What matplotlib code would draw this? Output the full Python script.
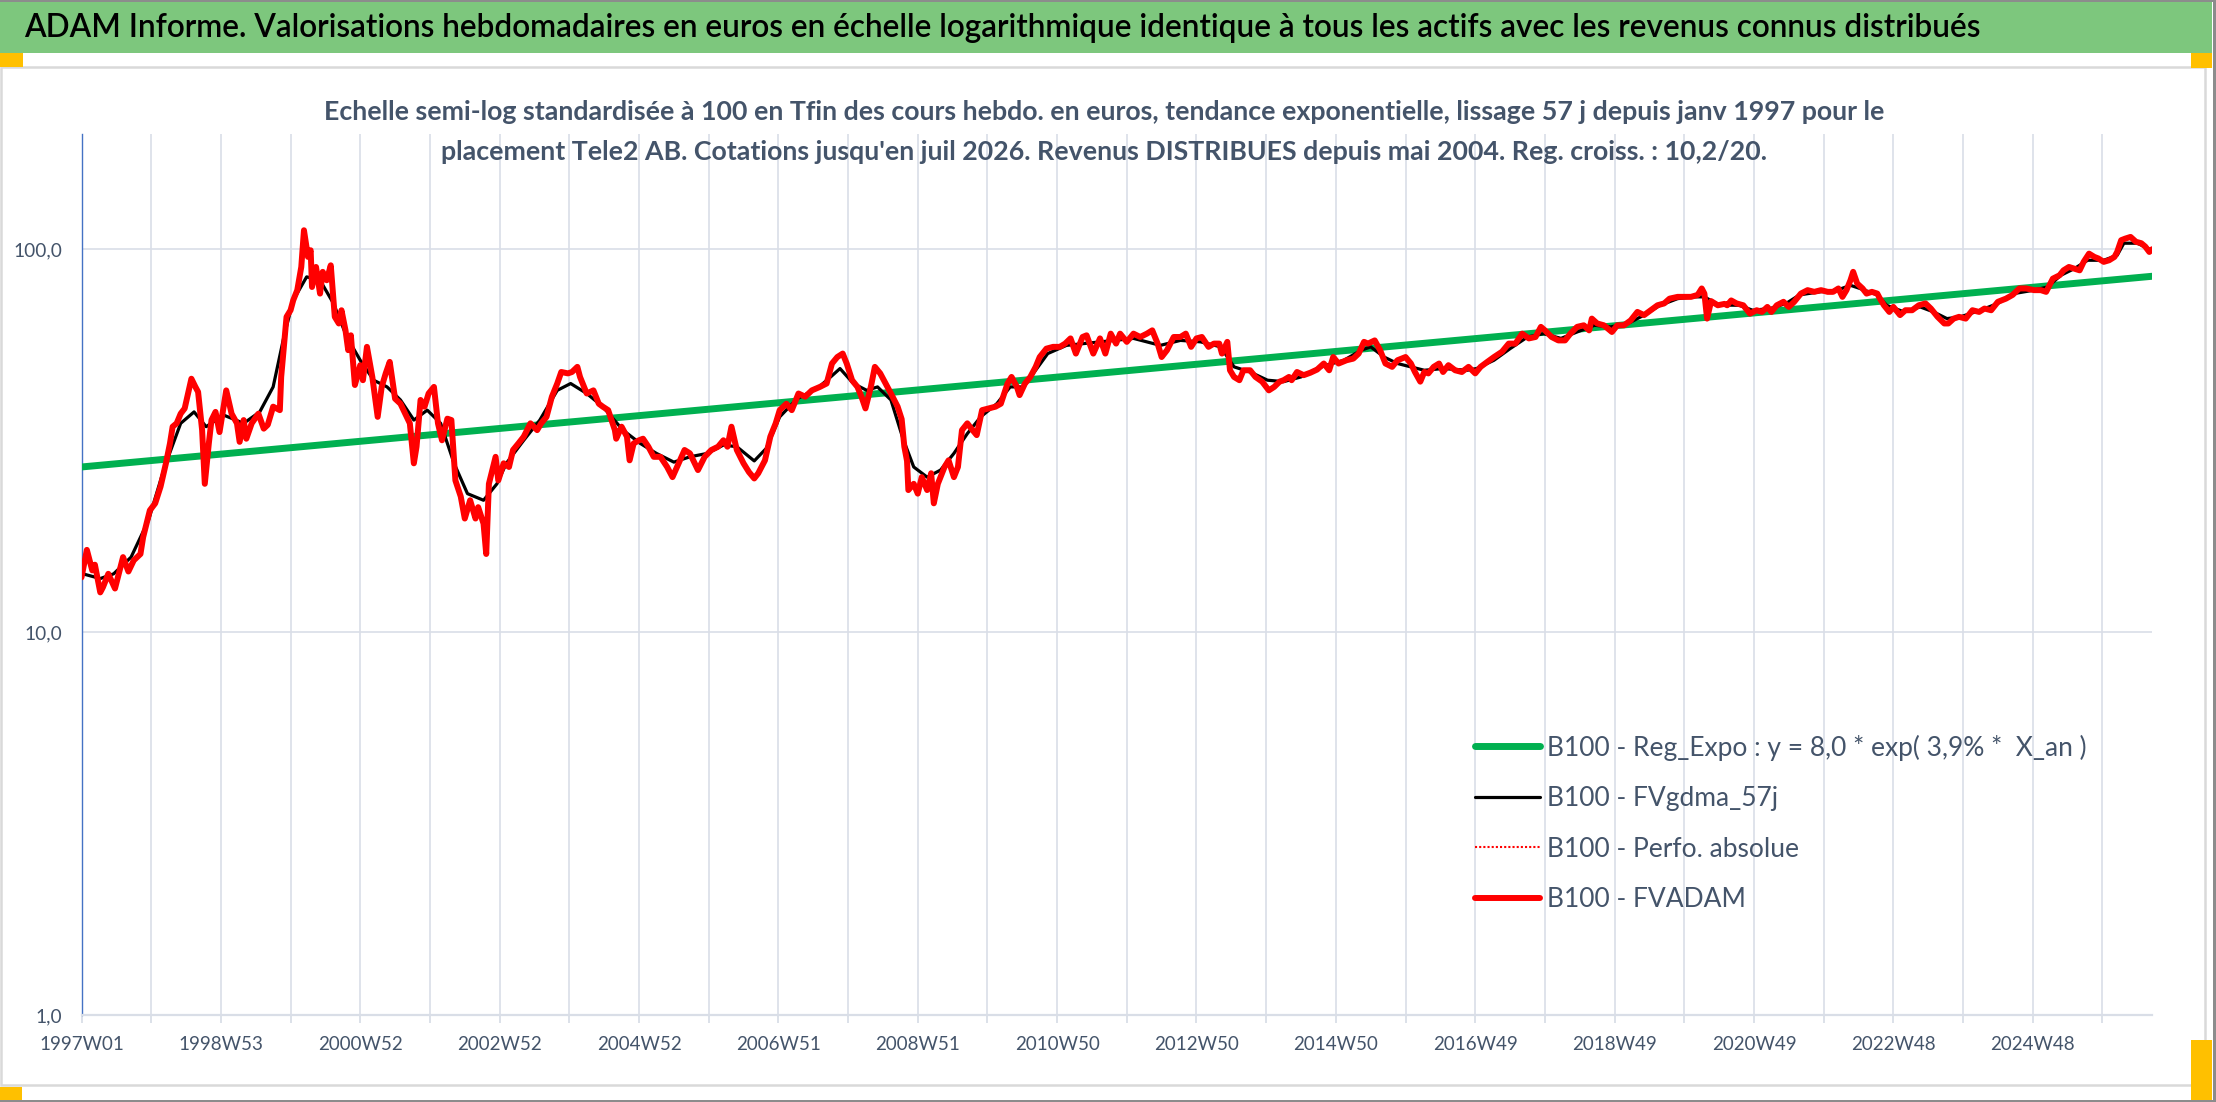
import datetime as dt
import matplotlib
matplotlib.use("Agg")
import matplotlib.pyplot as plt
from matplotlib.patches import Rectangle
from matplotlib.ticker import FixedLocator, NullLocator, FixedFormatter

# ------------------------------------------------------------------ data
N_WEEKS = 1546                      # 1997W01 ... 2026W33 (weekly categories)
START_MONDAY = dt.date(1996, 12, 30)
week_labels = []
for k in range(N_WEEKS):
    yy, ww, _ = (START_MONDAY + dt.timedelta(weeks=k)).isocalendar()
    week_labels.append(f"{yy}W{ww:02d}")

# B100 - FVADAM (red), week index -> value
fvadam_week = [0, 4, 8, 10, 14, 16, 20, 25, 31, 35, 39, 44, 46, 51, 55, 59, 63, 66, 68, 71,
               74, 77, 82, 85, 87, 90, 92, 95, 97, 100, 103, 108, 112, 116, 118, 121, 123, 127, 132, 136,
               139, 143, 148, 149, 153, 156, 158, 161, 164, 166, 169, 171, 172, 175, 178, 180, 183, 186, 189, 192,
               194, 197, 199, 201, 204, 208, 210, 213, 217, 221, 224, 227, 230, 234, 238, 242, 245, 248, 250, 253,
               256, 259, 263, 266, 269, 273, 276, 279, 283, 286, 290, 294, 296, 300, 302, 304, 309, 311, 315, 319,
               322, 326, 330, 335, 340, 343, 347, 351, 355, 358, 363, 366, 370, 372, 377, 382, 386, 389, 393, 398,
               399, 403, 407, 409, 412, 416, 419, 423, 427, 432, 437, 441, 445, 450, 454, 460, 465, 470, 475, 479,
               482, 485, 489, 494, 498, 502, 505, 510, 514, 518, 521, 526, 530, 535, 540, 545, 551, 556, 560, 564,
               568, 571, 575, 579, 582, 585, 589, 592, 596, 600, 604, 609, 612, 614, 616, 617, 621, 624, 627, 631,
               634, 636, 639, 644, 647, 651, 654, 657, 661, 664, 668, 672, 677, 682, 686, 691, 694, 698, 700, 704,
               708, 712, 715, 720, 725, 730, 734, 738, 742, 747, 750, 755, 760, 764, 768, 772, 775, 780, 785, 790,
               795, 799, 803, 806, 810, 815, 820, 824, 828, 832, 836, 841, 845, 849, 851, 855, 857, 860, 864, 867,
               872, 876, 881, 886, 890, 894, 897, 901, 903, 907, 912, 917, 922, 927, 931, 934, 938, 944, 949, 953,
               957, 960, 965, 969, 973, 978, 982, 988, 992, 995, 999, 1002, 1005, 1009, 1013, 1016, 1020, 1025, 1030, 1035,
               1040, 1044, 1049, 1054, 1060, 1065, 1070, 1075, 1080, 1085, 1089, 1092, 1097, 1102, 1107, 1111, 1116, 1121, 1125, 1127,
               1131, 1136, 1142, 1146, 1151, 1156, 1161, 1166, 1171, 1176, 1181, 1185, 1191, 1196, 1201, 1206, 1209, 1211, 1213, 1216,
               1221, 1226, 1228, 1231, 1235, 1240, 1245, 1250, 1254, 1258, 1261, 1265, 1270, 1274, 1278, 1283, 1288, 1293, 1298, 1303,
               1307, 1311, 1314, 1317, 1320, 1322, 1325, 1329, 1332, 1336, 1340, 1342, 1345, 1349, 1352, 1357, 1361, 1366, 1371, 1376,
               1380, 1385, 1390, 1393, 1397, 1401, 1406, 1411, 1416, 1420, 1425, 1430, 1436, 1441, 1446, 1451, 1457, 1462, 1466, 1471,
               1476, 1479, 1483, 1487, 1491, 1494, 1498, 1502, 1505, 1509, 1513, 1517, 1519, 1522, 1525, 1529, 1533, 1537, 1540, 1543,
               1545]
fvadam_val = [13.9, 16.4, 14.5, 15.0, 12.7, 13.1, 14.2, 13.0, 15.7, 14.4, 15.4, 16.0, 17.7, 20.8, 21.7, 24.0, 27.6, 31.1, 34.4, 35.1,
              37.2, 38.4, 45.9, 43.7, 42.4, 33.7, 24.4, 31.1, 35.8, 37.6, 33.3, 42.8, 37.2, 35.1, 31.4, 35.8, 32.0, 35.1, 37.2, 34.0,
              34.8, 38.8, 38.0, 46.4, 66.6, 69.3, 73.6, 78.2, 89.9, 112.1, 95.5, 99.4, 79.7, 89.9, 76.6, 87.3, 83.0, 90.8, 66.6, 64.0,
              69.3, 61.4, 54.5, 59.6, 44.2, 49.8, 45.5, 55.6, 46.4, 36.5, 43.7, 47.4, 50.8, 40.7, 39.5, 36.9, 35.1, 27.6, 30.5, 40.4,
              38.8, 42.0, 43.7, 35.1, 31.7, 36.1, 35.8, 24.9, 22.6, 19.8, 22.1, 19.8, 21.2, 19.2, 16.0, 24.4, 28.7, 24.9, 27.6, 27.0,
              29.9, 31.1, 32.4, 35.1, 33.7, 35.1, 36.5, 41.2, 44.6, 47.8, 47.4, 47.8, 49.3, 46.4, 42.0, 42.8, 39.5, 38.8, 38.0, 33.7,
              32.0, 34.4, 32.4, 28.1, 31.1, 31.7, 32.0, 30.5, 28.7, 28.7, 27.0, 25.4, 27.3, 29.9, 29.3, 26.5, 28.7, 29.9, 30.5, 31.7,
              30.5, 34.4, 29.9, 27.6, 26.2, 25.2, 26.0, 28.1, 32.4, 35.1, 38.0, 39.5, 38.0, 42.0, 41.2, 42.8, 43.7, 44.6, 50.3, 52.3,
              53.4, 50.3, 45.5, 43.7, 41.2, 38.4, 43.7, 49.3, 47.4, 44.6, 42.0, 38.8, 36.0, 30.5, 28.0, 23.5, 24.4, 23.0, 25.4, 23.5,
              26.0, 21.7, 24.4, 27.0, 28.1, 25.4, 27.0, 33.7, 35.1, 34.0, 32.7, 38.0, 38.4, 38.8, 39.5, 44.6, 46.4, 43.7, 41.6, 44.6,
              46.4, 49.3, 52.3, 55.0, 55.6, 55.6, 56.7, 58.5, 53.4, 59.0, 59.6, 53.4, 58.5, 53.4, 60.2, 56.7, 60.2, 57.3, 60.2, 59.0,
              60.2, 61.4, 56.7, 52.3, 54.5, 59.0, 59.0, 60.2, 55.6, 58.5, 59.0, 55.6, 56.7, 56.7, 53.4, 57.3, 48.3, 46.4, 45.5, 48.3,
              48.3, 46.4, 45.1, 42.8, 43.7, 45.1, 45.5, 46.4, 45.5, 47.8, 46.9, 47.6, 48.5, 50.3, 48.3, 52.3, 50.3, 51.3, 51.8, 53.4,
              57.3, 56.7, 57.8, 54.5, 50.3, 49.3, 51.3, 52.3, 50.3, 47.8, 45.1, 47.8, 47.4, 49.3, 50.3, 47.8, 49.8, 48.3, 47.8, 49.3,
              47.4, 49.3, 50.8, 52.3, 54.0, 56.7, 56.7, 60.2, 58.5, 59.0, 62.7, 61.4, 59.0, 57.8, 57.8, 60.2, 62.7, 63.3, 61.4, 65.9,
              64.0, 63.3, 60.8, 63.3, 63.3, 65.2, 68.6, 67.3, 69.3, 71.4, 72.2, 74.3, 75.1, 75.1, 75.1, 76.0, 79.0, 76.6, 65.9, 73.2,
              71.4, 72.0, 71.4, 73.5, 72.2, 71.4, 67.9, 69.3, 68.6, 70.7, 68.6, 71.4, 72.9, 70.7, 72.9, 76.6, 78.2, 77.4, 78.2, 77.4,
              77.4, 79.0, 75.1, 78.2, 83.0, 87.3, 81.4, 79.0, 76.6, 77.4, 76.6, 74.3, 71.4, 68.6, 70.7, 67.3, 69.3, 69.3, 71.4, 72.2,
              70.0, 66.6, 64.0, 64.0, 65.9, 66.6, 65.9, 69.3, 68.6, 70.0, 69.3, 72.9, 74.3, 76.0, 79.0, 79.0, 78.2, 78.2, 77.4, 83.8,
              85.5, 88.1, 89.9, 89.0, 88.1, 92.7, 97.4, 95.5, 94.6, 92.7, 93.6, 95.5, 98.4, 105.6, 106.6, 107.7, 104.6, 103.7, 101.6, 98.4,
              100.0]

# B100 - Perfo. absolue (red dotted, hidden under FVADAM)
perfo_week = fvadam_week
perfo_val = fvadam_val

# B100 - FVgdma_57j (black smoothed)
gdma_week = [1, 14, 24, 37, 50, 62, 74, 84, 93, 106, 121, 133, 143, 151, 158, 168, 178, 188, 198, 208,
             218, 228, 238, 248, 258, 268, 278, 288, 300, 310, 317, 330, 342, 355, 365, 377, 389, 404, 417, 429,
             442, 454, 467, 479, 489, 502, 511, 521, 534, 549, 559, 566, 576, 586, 594, 604, 613, 621, 631, 641,
             651, 661, 671, 683, 693, 703, 711, 721, 735, 760, 785, 805, 820, 835, 850, 860, 872, 885, 897, 910,
             922, 929, 942, 955, 962, 972, 982, 992, 1002, 1016, 1034, 1041, 1054, 1066, 1079, 1091, 1104, 1116, 1129, 1141,
             1154, 1166, 1178, 1191, 1203, 1211, 1222, 1237, 1247, 1260, 1272, 1282, 1297, 1310, 1320, 1327, 1340, 1347, 1360, 1372,
             1382, 1392, 1402, 1417, 1430, 1442, 1457, 1467, 1477, 1487, 1497, 1509, 1519, 1524, 1534, 1545]
gdma_val = [14.2, 13.8, 14.2, 15.7, 19.6, 27.0, 35.1, 37.6, 34.4, 36.9, 35.1, 37.6, 43.7, 59.0, 73.6, 84.7, 83.0, 72.2, 59.0, 51.3,
            45.5, 43.7, 40.4, 35.8, 38.0, 35.1, 27.6, 23.0, 22.1, 24.4, 27.6, 31.7, 35.8, 42.8, 44.6, 42.0, 38.8, 33.7, 31.1, 29.3,
            27.8, 28.7, 29.3, 30.8, 30.5, 28.0, 30.2, 36.5, 40.7, 43.3, 46.4, 48.8, 44.6, 42.8, 43.7, 40.4, 32.0, 27.0, 25.4, 26.5,
            29.3, 33.0, 36.5, 39.5, 43.7, 43.7, 47.8, 53.4, 56.1, 57.3, 58.5, 56.1, 57.8, 57.3, 55.6, 49.3, 47.8, 45.5, 45.1, 46.4,
            48.8, 49.8, 51.3, 54.5, 55.6, 52.3, 50.3, 49.3, 48.3, 48.8, 48.3, 48.8, 51.3, 55.0, 59.0, 60.2, 58.5, 60.8, 63.3, 62.7,
            64.0, 67.3, 71.4, 74.3, 75.1, 75.1, 71.5, 71.4, 69.3, 70.0, 72.2, 76.0, 77.4, 78.2, 80.5, 79.0, 76.0, 71.4, 68.6, 70.7,
            68.6, 65.9, 66.6, 69.3, 72.2, 76.6, 78.2, 79.7, 85.5, 89.0, 93.6, 93.6, 96.4, 103.7, 103.7, 99.4]

# B100 - Reg_Expo (exponential trend, straight on the log scale)
reg_week = [0, 1545]
reg_val = [27.0, 85.0]

y_ticks = [1, 10, 100]
y_tick_labels = ["1,0", "10,0", "100,0"]

title = ("ADAM Informe. Valorisations hebdomadaires en euros en échelle logarithmique "
         "identique à tous les actifs avec les revenus connus distribués")
subtitle_1 = ("Echelle semi-log standardisée à 100 en Tfin des cours hebdo. en euros, tendance "
              "exponentielle, lissage 57 j depuis janv 1997 pour le")
subtitle_2 = ("placement Tele2 AB. Cotations jusqu'en juil 2026. Revenus DISTRIBUES depuis mai 2004. "
              "Reg. croiss. : 10,2/20.")
legend_labels = ["B100 - Reg_Expo : y = 8,0 * exp( 3,9% *  X_an )",
                 "B100 - FVgdma_57j",
                 "B100 - Perfo. absolue",
                 "B100 - FVADAM"]

# ------------------------------------------------------------------ layout
W, H = 2216, 1102
DPI = 100
FONT = ["Lato", "DejaVu Sans"]
TXT = "#44546A"
GRID = "#D9DEE7"


def fx(px):
    return px / W


def fy(py):
    return 1 - py / H


fig = plt.figure(figsize=(W / DPI, H / DPI), dpi=DPI)
fig.patch.set_facecolor("white")
renderer = fig.canvas.get_renderer()


def fit(text, target_px):
    w = text.get_window_extent(renderer).width
    text.set_fontsize(text.get_fontsize() * target_px / w)
    return text.get_fontsize()


def size_for(s, target_px, weight="normal"):
    t = fig.text(0, 0, s, fontsize=20, family=FONT, weight=weight)
    fs = fit(t, target_px)
    t.remove()
    return fs


def height_of(s, fs):
    t = fig.text(0, 0, s, fontsize=fs, family=FONT)
    h = t.get_window_extent(renderer).height
    t.remove()
    return h


def fig_rect(x0, y0, x1, y1, **kw):
    fig.patches.append(Rectangle((fx(x0), fy(y1)), fx(x1 - x0), (y1 - y0) / H,
                                 transform=fig.transFigure, **kw))


# decorations (Excel frame, title band, selection handles)
fig_rect(0, 1.5, 2212, 53, facecolor="#7DC77D", edgecolor="none", zorder=-3)
fig_rect(1, 67, 2205, 1085, facecolor="none", edgecolor="#D9D9D9", lw=1.8, zorder=-3)
for (x0, y0, x1, y1) in [(0, 53, 23, 67), (2191, 53, 2212, 68), (0, 1087, 22, 1100), (2191, 1040, 2212, 1100)]:
    fig_rect(x0, y0, x1, y1, facecolor="#FFC000", edgecolor="none", zorder=-2)
for (x0, y0, x1, y1) in [(0, 0, 2216, 1.5), (2213, 0, 2216, 1102), (0, 1100, 2216, 1102)]:
    fig_rect(x0, y0, x1, y1, facecolor="#8C8C8C", edgecolor="none", zorder=-2)

# title and subtitle
t_title = fig.text(fx(24), fy(28), title, ha="left", va="center", color="black",
                   family=FONT, weight="semibold", fontsize=20)
fit(t_title, 1962)
t_s1 = fig.text(fx(1104), fy(112), subtitle_1, ha="center", va="center", color=TXT,
                family=FONT, weight="bold", fontsize=20)
fs_sub = fit(t_s1, 1567)
fig.text(fx(1104), fy(152), subtitle_2, ha="center", va="center", color=TXT,
         family=FONT, weight="bold", fontsize=fs_sub)

# axes
ax = fig.add_axes([fx(81.5), fy(1015), fx(2152 - 81.5), (1015 - 134) / H])
ax.patch.set_alpha(0)
ax.set_yscale("log")
ax.set_ylim(1, 200)
ax.set_xlim(0, N_WEEKS - 1)

ax.plot(reg_week, reg_val, color="#00B050", lw=5.0, solid_capstyle="round", zorder=3,
        label=legend_labels[0])
ax.plot(gdma_week, gdma_val, color="black", lw=2.3, solid_capstyle="round", solid_joinstyle="round",
        zorder=4, label=legend_labels[1])
ax.plot(perfo_week, perfo_val, color="#FF0000", lw=1.5, ls=(0, (1, 1)), zorder=4.5,
        label=legend_labels[2])
ax.plot(fvadam_week, fvadam_val, color="#FF0000", lw=4.3, solid_capstyle="round",
        solid_joinstyle="round", zorder=5, label=legend_labels[3])

# y axis
ax.yaxis.set_major_locator(FixedLocator(y_ticks))
ax.yaxis.set_major_formatter(FixedFormatter(y_tick_labels))
ax.yaxis.set_minor_locator(NullLocator())
fs_y = size_for("100,0", 49)
ax.tick_params(axis="y", length=0, pad=14, labelsize=fs_y, labelcolor=TXT)
for lab in ax.get_yticklabels():
    lab.set_family(FONT)

# x axis: tick every 52 weeks, label every 104 weeks
xt = list(range(0, N_WEEKS, 52))
ax.xaxis.set_major_locator(FixedLocator(xt))
ax.xaxis.set_major_formatter(FixedFormatter([week_labels[i] if i % 104 == 0 else "" for i in xt]))
fs_x = size_for("1997W01", 85)
ax.tick_params(axis="x", length=5.8, width=1.3, color=GRID, pad=9, labelsize=fs_x, labelcolor=TXT)
for lab in ax.get_xticklabels():
    lab.set_family(FONT)

ax.grid(True, which="major", color=GRID, lw=1.2)
ax.set_axisbelow(True)
for s in ("top", "right"):
    ax.spines[s].set_visible(False)
ax.spines["left"].set_color("#4472C4")
ax.spines["left"].set_linewidth(1.0)
ax.spines["bottom"].set_color(GRID)
ax.spines["bottom"].set_linewidth(1.6)

# legend (rows centred at y = 747, 798, 848, 898 px)
fs_leg = size_for(legend_labels[0], 540)
fs_px = fs_leg * DPI / 72
row_h = height_of("lp", fs_leg)
leg = ax.legend(loc="upper left", bbox_to_anchor=(fx(1475), fy(747 - row_h / 2)),
                bbox_transform=fig.transFigure, frameon=False, borderpad=0, borderaxespad=0,
                handlelength=65 / fs_px, handletextpad=7 / fs_px,
                labelspacing=(50.5 - row_h) / fs_px, prop={"family": FONT, "size": fs_leg})
for t in leg.get_texts():
    t.set_color(TXT)

fig.savefig("out.png", dpi=DPI, facecolor="white")
